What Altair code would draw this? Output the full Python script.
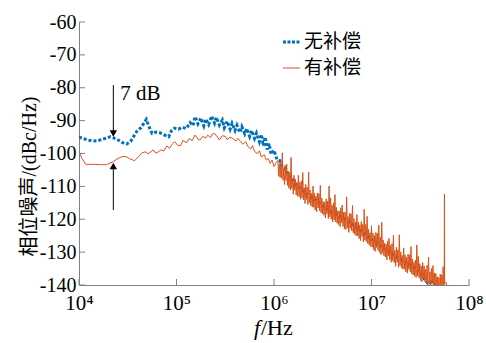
import altair as alt
import numpy as np
import pandas as pd

# ---------------- data ----------------
series_names = ["无补偿", "有补偿"]
series_colors = ["#0072BD", "#D95319"]

# 无补偿 (blue, dotted) : log10(f) and dBc/Hz
blue_lf = [4.00, 4.05, 4.10, 4.18, 4.25, 4.32, 4.38, 4.44, 4.49, 4.53,
           4.59, 4.64, 4.69, 4.72, 4.75, 4.79, 4.83, 4.87, 4.92, 4.95,
           4.98, 5.02, 5.06, 5.10, 5.14, 5.17, 5.19, 5.22, 5.25, 5.28,
           5.30, 5.33, 5.36, 5.39, 5.41, 5.44, 5.47, 5.49, 5.52, 5.55,
           5.57, 5.60, 5.62, 5.65, 5.67, 5.70, 5.72, 5.75, 5.77, 5.80,
           5.82, 5.85, 5.87, 5.89, 5.91, 5.93, 5.95, 5.97, 6.00, 6.03,
           6.06, 6.09, 6.12, 6.15, 6.18, 6.21, 6.30, 6.40, 6.50, 6.60,
           6.70, 6.80, 6.90, 7.00, 7.10, 7.20, 7.30, 7.40, 7.50, 7.55,
           7.58, 7.62, 7.66]
blue_db = [-95.0, -95.5, -96.0, -96.2, -95.6, -94.9, -95.5, -96.6, -97.1, -96.3,
           -93.4, -92.0, -89.6, -92.0, -93.9, -93.5, -93.7, -94.3, -94.9, -93.0,
           -92.3, -92.6, -92.0, -92.4, -90.6, -91.5, -88.8, -91.0, -89.2, -91.6,
           -89.5, -91.2, -88.6, -90.8, -89.0, -91.4, -89.8, -92.2, -90.2, -92.6,
           -90.8, -93.0, -91.4, -93.6, -91.8, -94.0, -92.4, -94.8, -93.0, -95.4,
           -93.8, -96.4, -94.2, -97.6, -95.0, -98.8, -97.0, -100.2, -99.0, -101.8,
           -102.2, -104.4, -104.6, -106.8, -107.2, -109.0, -111.5, -113.5, -116.0, -118.0,
           -119.5, -121.5, -123.8, -126.0, -128.2, -130.4, -132.2, -134.0, -136.0, -138.5,
           -139.5, -139.0, -140.5]

# 有补偿 (orange, solid) : low / mid frequency part
orange_lf_low = [4.00, 4.03, 4.07, 4.15, 4.22, 4.28, 4.35, 4.40, 4.44, 4.48,
                 4.52, 4.57, 4.61, 4.64, 4.68, 4.71, 4.74, 4.76, 4.79, 4.82,
                 4.84, 4.87, 4.90, 4.93, 4.96, 4.98, 5.01, 5.04, 5.07, 5.10,
                 5.13, 5.16, 5.19, 5.22, 5.24, 5.27, 5.30, 5.32, 5.35, 5.37,
                 5.39, 5.42, 5.44, 5.47, 5.50, 5.52, 5.55, 5.58, 5.61, 5.63,
                 5.66, 5.68, 5.71, 5.73, 5.76, 5.78, 5.80, 5.83, 5.85, 5.87,
                 5.90, 5.92, 5.94, 5.96, 5.98, 6.00, 6.02]
orange_db_low = [-99.4, -101.5, -103.3, -103.3, -103.4, -103.4, -102.5, -101.5, -101.0, -100.9,
                 -101.6, -102.2, -101.0, -99.9, -99.5, -100.1, -99.4, -98.9, -99.9, -99.4,
                 -98.9, -99.2, -97.7, -98.4, -97.0, -96.4, -97.4, -97.7, -95.9, -96.8,
                 -95.5, -96.1, -94.4, -95.6, -95.9, -94.8, -95.3, -94.4, -95.2, -94.0,
                 -93.9, -95.0, -95.9, -94.6, -94.8, -95.8, -95.0, -95.5, -96.2, -95.4,
                 -96.4, -97.2, -96.4, -97.8, -98.6, -97.6, -99.4, -100.0, -99.2, -101.0,
                 -100.4, -102.0, -101.5, -103.0, -102.0, -104.0, -102.8]

# 有补偿 : noisy high-frequency part (incl. spur near 56 MHz)
orange_lf_high = [
    6.0400, 6.0475, 6.0550, 6.0625, 6.0700, 6.0775, 6.0850, 6.0925,
    6.1000, 6.1075, 6.1150, 6.1225, 6.1300, 6.1375, 6.1450, 6.1525,
    6.1600, 6.1675, 6.1750, 6.1825, 6.1900, 6.1975, 6.2050, 6.2125,
    6.2200, 6.2275, 6.2350, 6.2425, 6.2500, 6.2575, 6.2650, 6.2725,
    6.2800, 6.2875, 6.2950, 6.3025, 6.3100, 6.3175, 6.3250, 6.3325,
    6.3400, 6.3475, 6.3550, 6.3625, 6.3700, 6.3775, 6.3850, 6.3925,
    6.4000, 6.4075, 6.4150, 6.4225, 6.4300, 6.4375, 6.4450, 6.4525,
    6.4600, 6.4675, 6.4750, 6.4825, 6.4900, 6.4975, 6.5050, 6.5125,
    6.5200, 6.5275, 6.5350, 6.5425, 6.5500, 6.5575, 6.5650, 6.5725,
    6.5800, 6.5875, 6.5950, 6.6025, 6.6100, 6.6175, 6.6250, 6.6325,
    6.6400, 6.6475, 6.6550, 6.6625, 6.6700, 6.6775, 6.6850, 6.6925,
    6.7000, 6.7075, 6.7150, 6.7225, 6.7300, 6.7375, 6.7450, 6.7525,
    6.7600, 6.7675, 6.7750, 6.7825, 6.7900, 6.7975, 6.8050, 6.8125,
    6.8200, 6.8275, 6.8350, 6.8425, 6.8500, 6.8575, 6.8650, 6.8725,
    6.8800, 6.8875, 6.8950, 6.9025, 6.9100, 6.9175, 6.9250, 6.9325,
    6.9400, 6.9475, 6.9550, 6.9625, 6.9700, 6.9775, 6.9850, 6.9925,
    7.0000, 7.0075, 7.0150, 7.0225, 7.0300, 7.0375, 7.0450, 7.0525,
    7.0600, 7.0675, 7.0750, 7.0825, 7.0900, 7.0975, 7.1050, 7.1125,
    7.1200, 7.1275, 7.1350, 7.1425, 7.1500, 7.1575, 7.1650, 7.1725,
    7.1800, 7.1875, 7.1950, 7.2025, 7.2100, 7.2175, 7.2250, 7.2325,
    7.2400, 7.2475, 7.2550, 7.2625, 7.2700, 7.2775, 7.2850, 7.2925,
    7.3000, 7.3075, 7.3150, 7.3225, 7.3300, 7.3375, 7.3450, 7.3525,
    7.3600, 7.3675, 7.3750, 7.3825, 7.3900, 7.3975, 7.4050, 7.4125,
    7.4200, 7.4275, 7.4350, 7.4425, 7.4500, 7.4575, 7.4650, 7.4725,
    7.4800, 7.4875, 7.4950, 7.5025, 7.5100, 7.5175, 7.5250, 7.5325,
    7.5400, 7.5475, 7.5550, 7.5625, 7.5700, 7.5775, 7.5850, 7.5925,
    7.6000, 7.6075, 7.6150, 7.6225, 7.6300, 7.6375, 7.6450, 7.6525,
    7.6600, 7.6675, 7.6750, 7.6825, 7.6900, 7.6975, 7.7050, 7.7125,
    7.7200, 7.7275, 7.7350, 7.7425,
    7.7460, 7.7480, 7.7500, 7.7650, 7.7800]
orange_db_high = [
    -102.1, -106.9, -103.1, -107.3, -102.3, -107.5, -99.8, -108.1,
    -104.6, -109.4, -103.6, -108.2, -103.2, -109.7, -105.4, -110.5,
    -105.8, -111.1, -101.2, -110.6, -107.6, -112.4, -106.6, -111.2,
    -107.8, -112.6, -108.8, -113.0, -106.6, -113.1, -108.8, -113.9,
    -108.3, -113.5, -105.8, -114.1, -110.4, -115.2, -109.4, -114.0,
    -110.2, -115.5, -105.6, -115.0, -111.1, -115.9, -112.1, -116.3,
    -109.9, -116.4, -112.1, -117.2, -113.0, -117.8, -112.0, -116.6,
    -112.2, -117.4, -109.7, -118.0, -113.6, -118.4, -114.6, -118.8,
    -114.8, -119.6, -113.8, -118.4, -114.5, -119.8, -109.9, -119.3,
    -113.5, -120.0, -115.7, -120.8, -115.0, -120.2, -112.5, -120.8,
    -116.4, -121.2, -117.4, -121.6, -117.5, -122.3, -116.5, -121.1,
    -115.7, -122.2, -117.9, -123.0, -117.8, -123.1, -113.2, -122.6,
    -119.2, -124.0, -118.2, -122.8, -118.3, -123.5, -115.8, -124.1,
    -119.8, -124.6, -120.8, -125.0, -118.6, -125.1, -120.8, -125.9,
    -121.7, -126.5, -120.7, -125.3, -121.6, -126.9, -117.0, -126.4,
    -121.6, -126.8, -119.1, -127.4, -123.1, -127.9, -124.1, -128.3,
    -122.0, -128.5, -124.2, -129.3, -125.0, -129.8, -124.0, -128.6,
    -124.3, -129.5, -121.8, -130.1, -125.5, -130.8, -120.9, -130.3,
    -126.3, -131.1, -127.3, -131.5, -127.6, -132.4, -126.6, -131.2,
    -125.8, -132.3, -128.0, -133.1, -127.4, -132.6, -124.9, -133.2,
    -129.5, -134.3, -128.5, -133.1, -129.3, -134.6, -124.7, -134.1,
    -130.0, -134.8, -131.0, -135.2, -128.7, -135.2, -130.9, -136.0,
    -131.6, -136.4, -130.6, -135.2, -130.8, -136.0, -128.3, -136.6,
    -132.1, -136.9, -133.1, -137.3, -132.4, -137.7, -127.8, -137.2,
    -131.3, -137.8, -133.5, -138.6, -134.2, -139.0, -133.2, -137.8,
    -134.2, -139.0, -135.2, -139.4, -134.0, -139.2, -131.5, -139.8,
    -136.0, -140.8, -135.0, -139.6, -134.1, -140.6, -136.3, -141.4,
    -136.5, -141.3, -137.5, -141.7, -137.7, -142.5, -136.7, -141.3,
    -136.9, -142.1, -134.4, -142.7,
    -139.0, -112.3, -139.5, -139.2, -141.5]

y_ticks = [-60, -70, -80, -90, -100, -110, -120, -130, -140]
x_ticks = [1e4, 1e5, 1e6, 1e7, 1e8]

# annotation "7 dB"
arrow_f = 22500
arrow_top_db = [-79.2, -93.2]
arrow_top_head = -93.9
arrow_bot_db = [-117.2, -104.5]
arrow_bot_head = -103.8
note_f = 26500
note_db = -82.0
note_text = "7 dB"

# ---------------- build tables ----------------
blue = pd.DataFrame({"f": 10 ** np.array(blue_lf), "db": blue_db})
orange = pd.DataFrame({"f": 10 ** np.array(orange_lf_low + orange_lf_high),
                       "db": orange_db_low + orange_db_high})

SERIF = "Liberation Serif"
SERIF_CJK = "Liberation Serif, Noto Sans CJK SC"
GRAY = "#808080"

W, H = 390, 263

X = alt.X("f:Q",
          scale=alt.Scale(type="log", domain=[1e4, 1e8], nice=False),
          axis=alt.Axis(values=x_ticks, ticks=False, grid=False, domainColor=GRAY,
                        labelExpr="'10' + ['⁴','⁵','⁶','⁷','⁸'][round(log(datum.value)/LN10) - 4]",
                        labelFont=SERIF, labelFontSize=21, labelColor="black",
                        labelPadding=7, labelFlush=False, labelOverlap=False, title=None))
Y = alt.Y("db:Q",
          scale=alt.Scale(domain=[-140, -60], nice=False, zero=False),
          axis=alt.Axis(values=y_ticks, ticks=False, grid=False, domainColor=GRAY,
                        labelExpr="'' + datum.value",
                        labelFont=SERIF, labelFontSize=20, labelColor="black",
                        labelPadding=3, labelFlush=False, labelOverlap=False,
                        title="相位噪声/(dBc/Hz)", titleFont=SERIF_CJK, titleFontSize=20,
                        titleFontWeight="normal", titleColor="black", titleAngle=270,
                        titleX=-50, titleY=154, titleAlign="center", titleBaseline="middle"))

blue_line = alt.Chart(blue).mark_line(
    color=series_colors[0], strokeWidth=3, strokeDash=[3, 2], clip=True
).encode(x=X, y=Y)

orange_line = alt.Chart(orange).mark_line(
    color=series_colors[1], strokeWidth=1, clip=True
).encode(x=X, y=Y)

# inward ticks
ytick_df = pd.DataFrame({"db": y_ticks})
ytick = alt.Chart(ytick_df).mark_rule(color=GRAY, strokeWidth=1).encode(
    y=Y, x=alt.value(0), x2=alt.value(6))
xtick_df = pd.DataFrame({"f": x_ticks})
xtick = alt.Chart(xtick_df).mark_rule(color=GRAY, strokeWidth=1).encode(
    x=X, y=alt.value(H), y2=alt.value(H - 6))

# arrows
arr_df = pd.DataFrame({"f": [arrow_f, arrow_f],
                       "db": [arrow_top_db[0], arrow_bot_db[0]],
                       "db2": [arrow_top_db[1], arrow_bot_db[1]]})
arrow_lines = alt.Chart(arr_df).mark_rule(color="black", strokeWidth=1).encode(
    x=X, y=Y, y2="db2:Q")
head_df = pd.DataFrame({"f": [arrow_f, arrow_f], "db": [arrow_top_head, arrow_bot_head],
                        "shape": ["triangle-down", "triangle-up"]})
heads = alt.Chart(head_df).mark_point(filled=True, size=55, color="black", opacity=1).encode(
    x=X, y=Y, shape=alt.Shape("shape:N", scale=None))
note = alt.Chart(pd.DataFrame({"f": [note_f], "db": [note_db], "t": [note_text]})).mark_text(
    font=SERIF, fontSize=21, align="left", baseline="middle", color="black"
).encode(x=X, y=Y, text="t:N")

# legend
one = pd.DataFrame({"a": [0]})
leg_blue = alt.Chart(one).mark_rule(color=series_colors[0], strokeWidth=3, strokeDash=[3, 1.5]).encode(
    x=alt.value(204), x2=alt.value(221), y=alt.value(20))
leg_orange = alt.Chart(one).mark_rule(color=series_colors[1], strokeWidth=1).encode(
    x=alt.value(204), x2=alt.value(221), y=alt.value(46))
leg_text1 = alt.Chart(one).mark_text(text=series_names[0], font="Noto Sans CJK SC", fontSize=19,
                                     align="left", baseline="middle", color="black").encode(
    x=alt.value(225), y=alt.value(20))
leg_text2 = alt.Chart(one).mark_text(text=series_names[1], font="Noto Sans CJK SC", fontSize=19,
                                     align="left", baseline="middle", color="black").encode(
    x=alt.value(225), y=alt.value(46))

# x-axis title  f/Hz  (italic f)
xt1 = alt.Chart(one).mark_text(text="f", font=SERIF, fontStyle="italic", fontSize=22,
                               align="left", baseline="alphabetic", color="black").encode(
    x=alt.value(175), y=alt.value(313))
xt2 = alt.Chart(one).mark_text(text="/Hz", font=SERIF, fontSize=22,
                               align="left", baseline="alphabetic", color="black").encode(
    x=alt.value(182), y=alt.value(313))

chart = alt.layer(
    blue_line, orange_line, ytick, xtick, arrow_lines, heads, note,
    leg_blue, leg_orange, leg_text1, leg_text2, xt1, xt2
).properties(
    width=W, height=H,
    padding={"left": 79, "top": 22, "right": 17, "bottom": 58},
    autosize=alt.AutoSizeParams(type="none"),
).configure_view(stroke=None).configure_axis(domainWidth=1)

chart.save("out.html", embed_options={"renderer": "svg", "actions": False})
